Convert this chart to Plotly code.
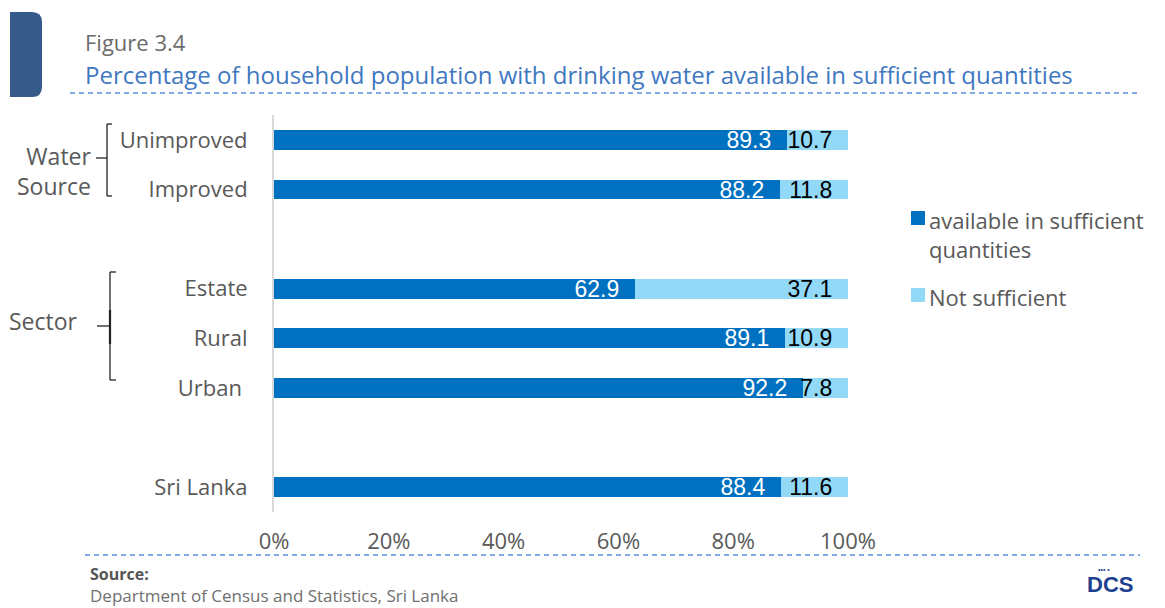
import plotly.graph_objects as go

# Household population by drinking water sufficiency (%)
groups = ["Water Source", "Sector", ""]
group_members = [["Unimproved", "Improved"], ["Estate", "Rural", "Urban"], ["Sri Lanka"]]
categories = ["Unimproved", "Improved", "Estate", "Rural", "Urban", "Sri Lanka"]
sufficient = [89.3, 88.2, 62.9, 89.1, 92.2, 88.4]
not_sufficient = [10.7, 11.8, 37.1, 10.9, 7.8, 11.6]
series_names = ["available in sufficient<br>quantities", "Not sufficient"]
x_ticks = [0, 20, 40, 60, 80, 100]
x_tick_labels = ["0%", "20%", "40%", "60%", "80%", "100%"]

# one empty row between groups
positions = []
slot = 0
for members in group_members:
    for _ in members:
        positions.append(slot)
        slot += 1
    slot += 1
last_row = positions[-1]

W, H = 1165, 608
L, R, T, B = 274, 848, 115, 512
TXT = "#595959"
DARK = "#0070C0"
LIGHT = "#92D9F7"
FONT = "'Open Sans', 'Noto Sans', sans-serif"
NUM_FONT = "'Liberation Sans', Arial, sans-serif"
PAD = "\u00a0\u00a0"


def px(x):
    return (x - L) / (R - L)


def py(y):
    return (B - y) / (B - T)


fig = go.Figure()
for vals, name, col, tcol in [(sufficient, series_names[0], DARK, "white"),
                              (not_sufficient, series_names[1], LIGHT, "black")]:
    fig.add_trace(go.Bar(
        y=positions, x=vals, orientation="h", name=name,
        marker=dict(color=col, line=dict(width=0)), width=0.4,
        text=[f"{v:.1f}{PAD}" for v in vals], textposition="inside", insidetextanchor="end",
        textfont=dict(family=NUM_FONT, size=23, color=tcol), constraintext="none",
        hoverinfo="skip", showlegend=False,
    ))

tick_text = [c + "\u00a0" if c == "Urban" else c for c in categories]

shapes = []
# header block
shapes.append(dict(type="path", xref="paper", yref="paper",
                   path=(f"M {px(10)},{py(12)} L {px(32)},{py(12)} "
                         f"Q {px(42)},{py(12)} {px(42)},{py(22)} "
                         f"L {px(42)},{py(87)} Q {px(42)},{py(97)} {px(32)},{py(97)} "
                         f"L {px(10)},{py(97)} Z"),
                   fillcolor="#365B8B", line=dict(width=0), layer="above"))
# dashed rules
for x0, y0 in [(70, 93), (85, 555)]:
    shapes.append(dict(type="line", xref="paper", yref="paper", x0=px(x0), x1=px(1140),
                       y0=py(y0), y1=py(y0), line=dict(color="#5B8FDF", width=1.3, dash="5px,4px")))


def bracket(x, top, bottom, mid, serif, tick_from):
    seg = lambda a, b, c, d: dict(type="line", xref="paper", yref="paper", x0=px(a), y0=py(b),
                                  x1=px(c), y1=py(d), line=dict(color="#222222", width=1.3))
    return [seg(x, top, x, bottom), seg(x, top, x + serif, top), seg(x, bottom, x + serif, bottom),
            seg(tick_from, mid, x, mid)]


shapes += bracket(107, 124, 196, 158, 5, 96)
shapes += bracket(110, 272, 380, 326, 6, 97)
shapes.append(dict(type="line", xref="paper", yref="paper", x0=px(110), x1=px(110),
                   y0=py(310), y1=py(344), line=dict(color="#222222", width=2.2)))

# legend swatches
legend_rows = [(218, DARK), (295, LIGHT)]
for yc, col in legend_rows:
    shapes.append(dict(type="rect", xref="paper", yref="paper", x0=px(911), x1=px(925),
                       y0=py(yc - 7), y1=py(yc + 7), fillcolor=col, line=dict(width=0)))


def note(text, x, y, size, color, xanchor="left", align="left", family=FONT):
    return dict(text=text, x=px(x), y=py(y), xref="paper", yref="paper", xanchor=xanchor,
                yanchor="middle", align=align, showarrow=False,
                font=dict(family=family, size=size, color=color))


annotations = [
    note("Figure 3.4", 83, 42.5, 22, "#6B6B6B"),
    note("Percentage of household population with drinking water available in sufficient quantities",
         83, 74, 24, "#3F78BF"),
    note("Water<br>Source", 93, 171, 23, TXT, xanchor="right", align="right"),
    note("Sector", 7, 321, 23, TXT),
    note("<b>Source:</b>", 88, 573.5, 16, "#555555"),
    note("Department of Census and Statistics, Sri Lanka", 88, 595.5, 17, "#707070"),
    note("<b>DCS</b>", 1110, 584, 22, "#1F3F8F", xanchor="center", family=NUM_FONT),
    note("\u2022\u2022\u2022 \u2022", 1104, 569, 7, "#1F3F8F", xanchor="center", family=NUM_FONT),
]
for (yc, _), name in zip(legend_rows, series_names):
    annotations.append(dict(text=name, x=px(927), y=py(yc - 15), xref="paper", yref="paper",
                            xanchor="left", yanchor="top", align="left", showarrow=False,
                            font=dict(family=FONT, size=22, color=TXT)))

fig.update_layout(
    width=W, height=H, margin=dict(l=L, r=W - R, t=T, b=H - B),
    barmode="stack", bargap=0,
    plot_bgcolor="white", paper_bgcolor="white",
    font=dict(family=FONT, color=TXT),
    xaxis=dict(range=[0, 100], tickvals=x_ticks, ticktext=x_tick_labels, showgrid=False,
               zeroline=False, showline=False, ticks="", ticklabelstandoff=14,
               tickfont=dict(family=FONT, size=22, color=TXT), fixedrange=True),
    yaxis=dict(range=[last_row + 0.5, -0.5], tickvals=positions, ticktext=tick_text,
               showgrid=False, zeroline=False, showline=True, linecolor="#D9D9D9", linewidth=2,
               ticks="", ticklabelstandoff=20,
               tickfont=dict(family=FONT, size=22, color=TXT), fixedrange=True),
    showlegend=False,
    shapes=shapes,
    annotations=annotations,
)

fig.write_html("out.html")
